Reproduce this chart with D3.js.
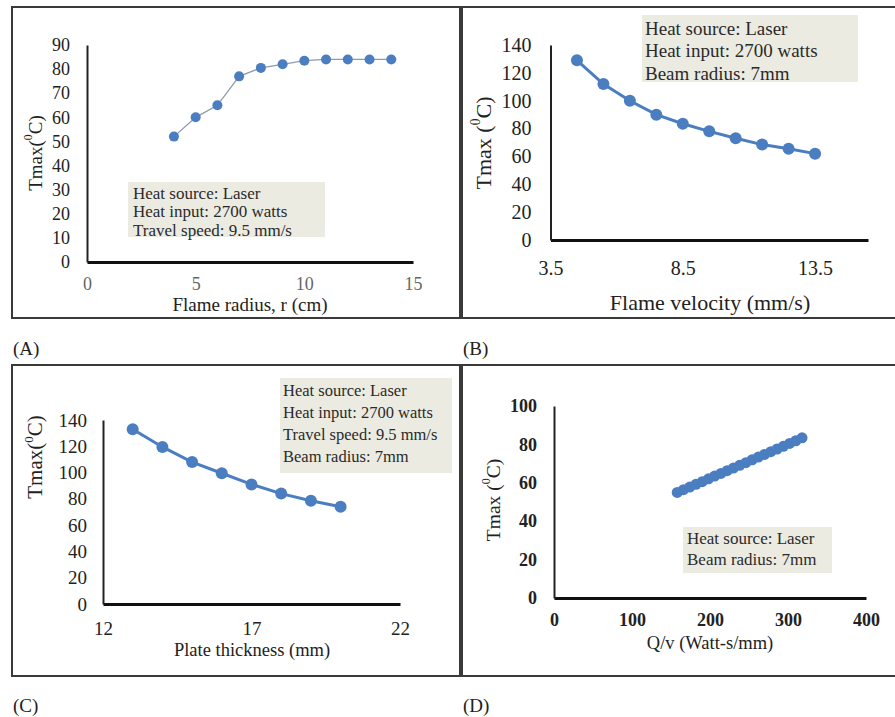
<!DOCTYPE html>
<html>
<head>
<meta charset="utf-8">
<script src="https://cdn.jsdelivr.net/npm/d3@7"></script>
<style>
  html, body { margin: 0; padding: 0; background: #fff; }
  svg { display: block; font-family: "Liberation Serif", "Times New Roman", serif; }
</style>
</head>
<body>
<svg id="fig" width="895" height="717"></svg>
<script>
// (A) peak temperature against flame radius
const radiusA = [4, 5, 6, 7, 8, 9, 10, 11, 12, 13, 14];
const tmaxA = [52, 60, 65, 77, 80.5, 82, 83.5, 84, 84, 84, 84];
const ticksAX = [0, 5, 10, 15];
const ticksAY = [0, 10, 20, 30, 40, 50, 60, 70, 80, 90];
const notesA = ["Heat source: Laser", "Heat input: 2700 watts", "Travel speed: 9.5 mm/s"];

// (B) peak temperature against flame velocity
const velocityB = [4.5, 5.5, 6.5, 7.5, 8.5, 9.5, 10.5, 11.5, 12.5, 13.5];
const tmaxB = [129, 112, 100, 90, 83.5, 78, 73, 68.5, 65.5, 62];
const ticksBX = [3.5, 8.5, 13.5];
const ticksBY = [0, 20, 40, 60, 80, 100, 120, 140];
const notesB = ["Heat source: Laser", "Heat input: 2700 watts", "Beam radius: 7mm"];

// (C) peak temperature against plate thickness
const thicknessC = [13, 14, 15, 16, 17, 18, 19, 20];
const tmaxC = [133, 119.5, 108, 99.5, 91, 84, 78.5, 74];
const ticksCX = [12, 17, 22];
const ticksCY = [0, 20, 40, 60, 80, 100, 120, 140];
const notesC = ["Heat source: Laser", "Heat input: 2700 watts", "Travel speed: 9.5 mm/s", "Beam radius: 7mm"];

// (D) peak temperature against heat input per unit length
const qvD = [158, 166, 174, 182, 190, 198, 206, 214, 222, 230, 238, 246, 254, 262, 270, 278, 286, 294, 302, 310, 318];
const tmaxD = [55, 56.4, 57.8, 59.2, 60.6, 62.1, 63.5, 64.9, 66.3, 67.7, 69.1, 70.5, 72.0, 73.4, 74.8, 76.2, 77.6, 79.0, 80.5, 81.9, 83.4];
const ticksDX = [0, 100, 200, 300, 400];
const ticksDY = [0, 20, 40, 60, 80, 100];
const notesD = ["Heat source: Laser", "Beam radius: 7mm"];

const panelTags = ["(A)", "(B)", "(C)", "(D)"];

const BLUE = "#4a7ec0";
const NOTE_BG = "#ecebe2";

const svg = d3.select("#fig");

// Panel frames
const frames = [
  {x: 12, y: 7, w: 448, h: 311},
  {x: 462, y: 7, w: 440, h: 311},
  {x: 12, y: 365, w: 448, h: 311},
  {x: 462, y: 365, w: 440, h: 311}
];
svg.append("g").selectAll("rect").data(frames).join("rect")
  .attr("x", d => d.x).attr("y", d => d.y)
  .attr("width", d => d.w).attr("height", d => d.h)
  .attr("fill", "none").attr("stroke", "#3a3a3a").attr("stroke-width", 2);

// Panel tags
const tagPos = [[13, 355], [463, 355], [13, 712], [463, 712]];
svg.append("g").selectAll("text").data(panelTags).join("text")
  .attr("x", (d, i) => tagPos[i][0]).attr("y", (d, i) => tagPos[i][1])
  .attr("font-size", 19).attr("fill", "#222").text(d => d);

function drawPanel(cfg) {
  const g = svg.append("g");
  const x = d3.scaleLinear().domain(cfg.xDomain).range(cfg.xRange);
  const y = d3.scaleLinear().domain(cfg.yDomain).range(cfg.yRange);

  // Note box behind the data
  const nb = g.append("g");
  nb.append("rect")
    .attr("x", cfg.note.x).attr("y", cfg.note.y)
    .attr("width", cfg.note.w).attr("height", cfg.note.h)
    .attr("fill", NOTE_BG);
  nb.selectAll("text").data(cfg.notes).join("text")
    .attr("x", cfg.note.tx)
    .attr("y", (d, i) => cfg.note.ty + i * cfg.note.dy)
    .attr("dominant-baseline", "central")
    .attr("font-size", cfg.note.fs)
    .attr("fill", "#2a2a2a")
    .text(d => d);

  // Axes
  const ax = g.append("g").attr("transform", `translate(0,${cfg.yRange[0]})`)
    .call(d3.axisBottom(x).tickValues(cfg.xTicks).tickSize(0)
      .tickPadding(cfg.xPad).tickFormat(cfg.xFmt || (d => d)));
  ax.select(".domain").attr("stroke", "#111").attr("stroke-width", 3);
  ax.selectAll("text").attr("font-size", cfg.tickFs).attr("font-family", "Liberation Serif")
    .attr("fill", cfg.xTickColor || "#222").attr("font-weight", cfg.tickWeight || "normal");

  const ay = g.append("g").attr("transform", `translate(${cfg.xRange[0]},0)`)
    .call(d3.axisLeft(y).tickValues(cfg.yTicks).tickSize(0).tickPadding(cfg.yPad));
  ay.select(".domain").attr("stroke", "#222").attr("stroke-width", 2);
  ay.selectAll("text").attr("font-size", cfg.yTickFs || cfg.tickFs).attr("font-family", "Liberation Serif")
    .attr("fill", "#222").attr("font-weight", cfg.tickWeight || "normal");

  // Axis titles
  g.append("text")
    .attr("x", cfg.xTitle.x).attr("y", cfg.xTitle.y)
    .attr("text-anchor", "middle").attr("dominant-baseline", "central")
    .attr("font-size", cfg.xTitle.fs).attr("fill", "#222")
    .text(cfg.xTitle.text);

  const yt = g.append("text")
    .attr("transform", `translate(${cfg.yTitle.x},${cfg.yTitle.y}) rotate(-90)`)
    .attr("text-anchor", "middle").attr("dominant-baseline", "central")
    .attr("font-size", cfg.yTitle.fs).attr("fill", "#222");
  yt.append("tspan").text(cfg.yTitle.pre);
  yt.append("tspan").attr("font-size", cfg.yTitle.fs * 0.62).attr("dy", -cfg.yTitle.fs * 0.35).text("0");
  yt.append("tspan").attr("dy", cfg.yTitle.fs * 0.35).text("C)");

  // Series
  const pts = cfg.xs.map((v, i) => [v, cfg.ys[i]]);
  g.append("path").datum(pts)
    .attr("fill", "none").attr("stroke", cfg.lineColor).attr("stroke-width", cfg.lineW)
    .attr("d", d3.line().x(d => x(d[0])).y(d => y(d[1])));
  g.selectAll("circle.pt").data(pts).join("circle")
    .attr("class", "pt")
    .attr("cx", d => x(d[0])).attr("cy", d => y(d[1]))
    .attr("r", cfg.r).attr("fill", BLUE);
}

drawPanel({
  xs: radiusA, ys: tmaxA, xTicks: ticksAX, yTicks: ticksAY, notes: notesA,
  xDomain: [0, 15], xRange: [87, 413], yDomain: [0, 90], yRange: [262, 45],
  xPad: 15, yPad: 17, tickFs: 18, xTickColor: "#666",
  note: {x: 128, y: 182, w: 197, h: 55, tx: 133, ty: 193, dy: 18.5, fs: 17},
  xTitle: {x: 250, y: 304, fs: 19, text: "Flame radius, r (cm)"},
  yTitle: {x: 35, y: 153, fs: 19, pre: "Tmax("},
  lineColor: "#8d9bb0", lineW: 1.3, r: 5
});

drawPanel({
  xs: velocityB, ys: tmaxB, xTicks: ticksBX, yTicks: ticksBY, notes: notesB,
  xDomain: [3.5, 15.5], xRange: [550.5, 868], yDomain: [0, 140], yRange: [240, 45],
  xPad: 21, yPad: 19, tickFs: 20, xFmt: d3.format(".1f"),
  note: {x: 642, y: 15, w: 216, h: 67, tx: 645, ty: 28, dy: 22.5, fs: 19},
  xTitle: {x: 710, y: 302, fs: 22, text: "Flame velocity (mm/s)"},
  yTitle: {x: 483, y: 143, fs: 22, pre: "Tmax ("},
  lineColor: BLUE, lineW: 3, r: 6
});

drawPanel({
  xs: thicknessC, ys: tmaxC, xTicks: ticksCX, yTicks: ticksCY, notes: notesC,
  xDomain: [12, 22], xRange: [103, 400], yDomain: [0, 140], yRange: [604, 420],
  xPad: 18, yPad: 16, tickFs: 19,
  note: {x: 280, y: 378, w: 172, h: 95, tx: 283, ty: 390, dy: 22.3, fs: 16.5},
  xTitle: {x: 252, y: 650, fs: 18.5, text: "Plate thickness (mm)"},
  yTitle: {x: 35, y: 457, fs: 21, pre: "Tmax("},
  lineColor: BLUE, lineW: 3, r: 6
});

drawPanel({
  xs: qvD, ys: tmaxD, xTicks: ticksDX, yTicks: ticksDY, notes: notesD,
  xDomain: [0, 400], xRange: [554, 866], yDomain: [0, 100], yRange: [598, 406],
  xPad: 15, yPad: 17, tickFs: 18, tickWeight: "bold",
  note: {x: 683, y: 527, w: 149, h: 46, tx: 687, ty: 538, dy: 21, fs: 17},
  xTitle: {x: 710, y: 643, fs: 18.5, text: "Q/v (Watt-s/mm)"},
  yTitle: {x: 493, y: 500, fs: 19.5, pre: "Tmax ("},
  lineColor: BLUE, lineW: 3.5, r: 5.5
});
</script>
</body>
</html>
